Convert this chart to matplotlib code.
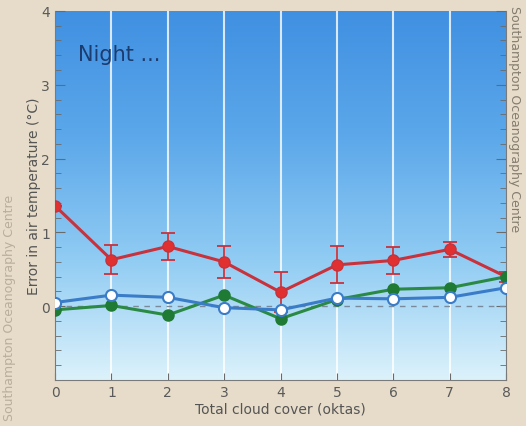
import matplotlib

matplotlib.use("Agg")
import matplotlib.pyplot as plt
import numpy as np
from matplotlib.colors import LinearSegmentedColormap
from matplotlib.ticker import MultipleLocator

plt.rcParams.update({"font.family": "DejaVu Sans", "font.size": 9})

# --- data ------------------------------------------------------------------------
oktas = [0, 1, 2, 3, 4, 5, 6, 7, 8]
red = [1.36, 0.63, 0.81, 0.60, 0.19, 0.56, 0.62, 0.77, 0.40]
red_err = [0.0, 0.20, 0.18, 0.22, 0.27, 0.25, 0.18, 0.10, 0.07]
blue = [0.05, 0.15, 0.12, -0.02, -0.05, 0.11, 0.10, 0.12, 0.25]
green = [-0.05, 0.01, -0.12, 0.15, -0.17, 0.09, 0.23, 0.25, 0.40]

fig = plt.figure(figsize=(5.26, 4.27), dpi=100, facecolor="#e7dcc9")
ax = fig.add_axes([0.1046, 0.1077, 0.8574, 0.8643])

# sky gradient behind the plot
sky = LinearSegmentedColormap.from_list("sky", ["#dcf2fb", "#8fcbf3", "#5ba7ea", "#4090e2"])
grad = np.linspace(0, 1, 256).reshape(-1, 1)
ax.imshow(grad, cmap=sky, origin="lower", aspect="auto", extent=(0, 8, -1, 4), zorder=0)

for x in range(1, 8):
    ax.axvline(x, color="white", lw=1.5, alpha=0.8, zorder=1)
ax.axhline(0, color="#7a8a9a", lw=1.0, ls=(0, (4, 4)), zorder=2)

ax.errorbar(oktas, red, yerr=red_err, color="#c8323c", lw=2.2, marker="o", ms=8,
            mfc="#e03030", mec="#c8323c", capsize=5, elinewidth=1.3, capthick=1.3, zorder=4)
ax.plot(oktas, green, color="#2a8a44", lw=2.2, marker="o", ms=8, mfc="#1f7a34",
        mec="#1f7a34", zorder=5)
ax.plot(oktas, blue, color="#3a7cc8", lw=2.2, marker="o", ms=8, mfc="white",
        mec="#3a7cc8", mew=1.5, zorder=6)

ax.set_xlim(0, 8)
ax.set_ylim(-1, 4)
ax.set_xticks(oktas)
ax.set_yticks([0, 1, 2, 3, 4])
ax.yaxis.set_minor_locator(MultipleLocator(0.2))
ax.tick_params(axis="both", which="both", direction="in", colors="#6a6a6a",
               labelcolor="#5a5a5a", right=True)
ax.tick_params(axis="y", which="major", length=7)
ax.tick_params(axis="y", which="minor", length=4)
ax.tick_params(axis="x", length=5, labelsize=10)
ax.tick_params(axis="y", labelsize=10)
for s in ax.spines.values():
    s.set_color("#7a7a7a")
ax.spines["top"].set_visible(False)

ax.set_xlabel("Total cloud cover (oktas)", color="#555555", fontsize=10, labelpad=2)
ax.set_ylabel("Error in air temperature (°C)", color="#555555", fontsize=10, labelpad=0)
ax.text(0.05, 0.883, "Night ...", transform=ax.transAxes, fontsize=15, color="#1c3c70",
        va="center", zorder=7)

# watermark text on both margins
fig.text(0.979, 0.72, "Southampton Oceanography Centre", rotation=-90, ha="center",
         va="center", color="#6b6458", fontsize=9, alpha=0.8)
fig.text(0.018, 0.28, "Southampton Oceanography Centre", rotation=90, ha="center",
         va="center", color="#8a8070", fontsize=9, alpha=0.5)

fig.savefig("out.png", dpi=100, facecolor=fig.get_facecolor())
